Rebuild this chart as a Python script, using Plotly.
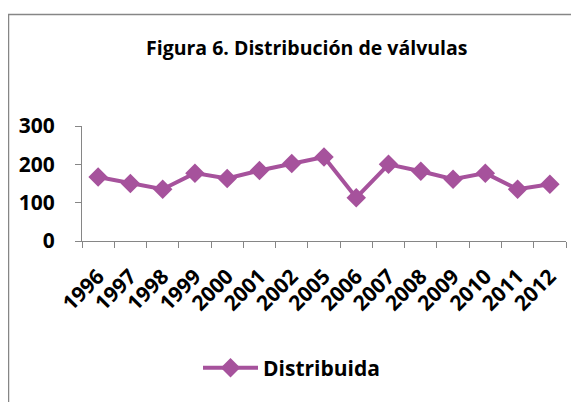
import plotly.graph_objects as go

years = ["1996", "1997", "1998", "1999", "2000", "2001", "2002", "2005",
         "2006", "2007", "2008", "2009", "2010", "2011", "2012"]
distribuida = [167, 150, 135, 177, 163, 184, 202, 219, 113, 200, 182, 161, 177, 135, 148]
y_ticks = [0, 100, 200, 300]

OFF = 8  # page body margin
W, H = 579 - OFF, 402 - OFF
L, R, T, B = 82 - OFF, 13, 126 - OFF, 161
pw, ph = W - L - R, H - T - B

def px_x(x):
    return (x - OFF - L) / pw

def px_y(y):
    return (H - B - (y - OFF)) / ph

color = "#A6529C"
font_family = "Open Sans, Liberation Sans, Arial, sans-serif"

fig = go.Figure()
fig.add_trace(go.Scatter(
    x=years, y=distribuida, mode="lines+markers", name="Distribuida",
    line=dict(color=color, width=4),
    marker=dict(symbol="diamond", size=15, color=color),
))

fig.update_layout(
    width=W, height=H,
    margin=dict(l=L, r=R, t=T, b=B, autoexpand=False),
    plot_bgcolor="white", paper_bgcolor="white",
    font=dict(family=font_family, color="black"),
    showlegend=True,
    legend=dict(orientation="h", x=px_x(198), y=px_y(368), yanchor="middle", xanchor="left",
                font=dict(size=21, family=font_family, weight="bold"), itemwidth=55),
    xaxis=dict(type="category", range=[-0.5, 14.5], showgrid=False, automargin=False,
               showline=True, linecolor="#868686", linewidth=1,
               ticks="outside", ticklen=6, tickcolor="#868686", tickson="boundaries",
               ticklabelstandoff=14,
               tickangle=-45, tickfont=dict(size=21, family=font_family, weight="bold")),
    yaxis=dict(range=[0, 300], tickvals=y_ticks, showgrid=False, automargin=False,
               showline=True, linecolor="#868686", linewidth=1,
               ticks="outside", ticklen=6, tickcolor="#868686", ticklabelstandoff=16,
               tickfont=dict(size=21, family=font_family, weight="bold")),
    annotations=[dict(text="<b>Figura 6. Distribución de válvulas</b>", xref="paper", yref="paper",
                      x=px_x(306), y=px_y(48), xanchor="center", yanchor="middle", showarrow=False,
                      font=dict(size=19.5, family=font_family))],
    shapes=[dict(type="rect", xref="paper", yref="paper",
                 x0=px_x(8.5), x1=px_x(600), y0=px_y(420), y1=px_y(14.5),
                 line=dict(color="#868686", width=1.5), layer="below")],
)

fig.write_html("out.html")
